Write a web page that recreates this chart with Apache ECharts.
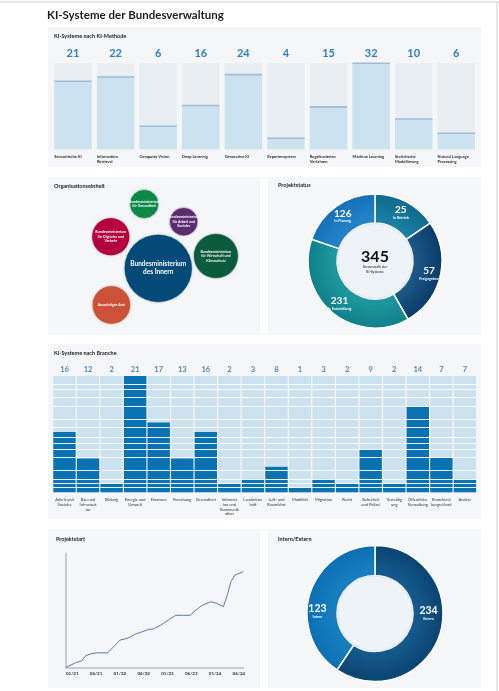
<!DOCTYPE html>
<html lang="de">
<head>
<meta charset="utf-8">
<title>KI-Systeme der Bundesverwaltung</title>
<script src="https://cdn.jsdelivr.net/npm/echarts@6/dist/echarts.min.js"></script>
<style>
html,body{margin:0;padding:0;background:#fff;}
#main{width:499px;height:691px;}
</style>
</head>
<body>
<div id="main"></div>
<script>
// KI-Methode
var methodNames = ['Semantische KI', 'Information\nRetrieval', 'Computer Vision', 'Deep Learning', 'Generative KI',
  'Expertensystem', 'Regelbasiertes\nVerfahren', 'Machine Learning', 'Statistische\nModellierung', 'Natural Language\nProcessing'];
var methodCounts = [21, 22, 6, 16, 24, 4, 15, 32, 10, 6];
var methodLevel = [25.3, 26.9, 8.6, 16.3, 27.8, 4.1, 15.8, 32, 11.3, 6.0]; // Balkenhöhe wie im Bild

// Organisationseinheit
var orgNames = ['Bundesministerium\ndes Innern', 'Bundesministerium\nfür Wirtschaft und\nKlimaschutz', 'Bundesministerium\nfür Digitales und\nVerkehr',
  'Auswärtiges Amt', 'Bundesministerium\nfür Arbeit und\nSoziales', 'Bundesministerium\nfür Gesundheit'];
var orgX = [52.0, 79.2, 29.6, 29.9, 64.0, 45.4];
var orgY = [57.8, 50.0, 37.8, 81.0, 28.3, 17.1];
var orgSize = [138, 60, 43, 44, 24, 25];
var orgColors = ['#034a78', '#0b5b3e', '#b4003c', '#cb5239', '#5d2b6f', '#0c8947'];

// Projektstatus
var statusNames = ['In Betrieb', 'Freigegeben', 'In Entwicklung', 'In Planung'];
var statusCounts = [25, 57, 231, 126];
var statusShare = [55.5, 95, 138.5, 71]; // Segmentgröße wie im Bild
var statusTotal = 345;

// Branche
var branchNames = ['Arbeit und\nSoziales', 'Bau und\nInfrastruk\ntur', 'Bildung', 'Energie und\nUmwelt', 'Finanzen', 'Forschung', 'Gesundheit',
  'Informat\nion und\nKommunik\nation', 'Landwirtsc\nhaft', 'Luft- und\nRaumfahrt', 'Mobilität', 'Migration', 'Recht', 'Sicherheit\nund Polizei',
  'Verteidig\nung', 'Öffentliche\nVerwaltung', 'Branchenü\nbergreifend', 'Andere'];
var branchCounts = [16, 12, 2, 21, 17, 13, 16, 2, 3, 8, 1, 3, 2, 9, 2, 14, 7, 7];
var branchLevel = [10.9, 6.1, 1.6, 21, 12.6, 6.1, 10.9, 1.6, 2.35, 4.6, 0.83, 2.35, 1.6, 7.76, 1.6, 15.6, 6.25, 2.35];
var gridLevels = [0.83, 1.6, 2.35, 4.0, 6.25, 7.76, 8.85, 10.0, 11.7, 13.2, 15.6, 17.15, 18.6, 19.5];

// Projektstart
var startTicks = ['01/21', '06/21', '01/22', '06/22', '01/23', '06/23', '01/24', '06/24'];
var startX = [0, 0.45, 0.66, 0.83, 1.08, 1.29, 1.75, 1.99, 2.27, 2.48, 2.65, 2.93, 3.21, 3.46, 3.67, 3.99, 4.30, 4.61, 4.93, 5.21, 5.42, 5.70, 6.09, 6.33, 6.61, 6.79, 6.93, 7.10, 7.45];
var startY = [0, 18, 23, 42, 49, 52, 52, 73, 98, 102, 107, 120, 128, 136, 138, 152, 170, 187, 187, 187, 203, 222, 236, 230, 218, 263, 308, 332, 344];

// Intern/Extern
var ieNames = ['Extern', 'Intern'];
var ieCounts = [234, 123];
var ieShare = [214, 146];

var FONT = 'Lato, "Noto Sans", sans-serif';

var mydiv = document.getElementById('main');
var chart = echarts.init(mydiv);

function radial(cx, cy, r, inner, outer) {
  return { type: 'radial', x: cx, y: cy, r: r, global: true,
    colorStops: [{ offset: 0.5, color: inner }, { offset: 1, color: outer }] };
}

function panel(x, y, w, h) {
  return { type: 'rect', z: -10, silent: true, shape: { x: x, y: y, width: w, height: h }, style: { fill: '#f4f6f7' } };
}

function panelTitle(text, x, y, size) {
  return { text: text, left: x, top: y, padding: 0,
    textStyle: { fontSize: size || 5.5, fontWeight: 'bold', color: '#1d1d1d', fontFamily: FONT } };
}

var statusColors = [
  radial(375, 261, 67, '#1b86a6', '#106a8e'),
  radial(375, 261, 67, '#1f5e90', '#0a3c68'),
  radial(375, 261, 67, '#1f9fa2', '#10808a'),
  radial(375, 261, 67, '#2789cc', '#1570b8')
];
var ieColors = [
  radial(375, 613.5, 68, '#175f94', '#0a4471'),
  radial(375, 613.5, 68, '#1a83c4', '#0b70b3')
];
var ieOffsets = [[0, -17], [-4, 14]];

var option = {
  animation: false,
  textStyle: { fontFamily: FONT },
  graphic: [
    { type: 'line', z: -10, silent: true, shape: { x1: 0, y1: 2, x2: 499, y2: 2 }, style: { stroke: '#cfd3d6', lineWidth: 1 } },
    { type: 'line', z: -10, silent: true, shape: { x1: 497, y1: 2, x2: 497, y2: 691 }, style: { stroke: '#cfd3d6', lineWidth: 1 } },
    panel(48, 27, 433, 140),
    panel(48, 177, 212, 158),
    panel(268, 177, 213, 158),
    panel(48, 344, 433, 175),
    panel(48, 529, 212, 159),
    panel(268, 529, 213, 159)
  ],
  title: [
    panelTitle('KI-Systeme der Bundesverwaltung', 47, 9, 11.5),
    panelTitle('KI-Systeme nach KI-Methode', 54, 33),
    panelTitle('Organisationseinheit', 54, 183),
    panelTitle('Projektstatus', 278, 182.5),
    panelTitle('KI-Systeme nach Branche', 54, 350.5),
    panelTitle('Projektstart', 56, 536.5),
    panelTitle('Intern/Extern', 278, 536.5)
  ],
  grid: [
    { left: 51.7, top: 63.3, width: 425.9, height: 86 },     // 0 KI-Methode
    { left: 33, top: 63.3, width: 425.9, height: 86 },       // 1 Beschriftung linksbündig
    { left: 52.7, top: 376, width: 424, height: 116.3 },     // 2 Branche
    { left: 48, top: 177, width: 212, height: 158 },         // 3 Organisationseinheit
    { left: 66, top: 553.3, width: 177.3, height: 114 }      // 4 Projektstart
  ],
  xAxis: [
    { gridIndex: 0, type: 'category', data: methodNames, axisLine: { show: false }, axisTick: { show: false }, axisLabel: { show: false } },
    { gridIndex: 1, type: 'category', data: methodNames, axisLine: { show: false }, axisTick: { show: false },
      axisLabel: { interval: 0, align: 'left', verticalAlign: 'top', margin: 5, fontSize: 4, lineHeight: 5, color: '#2a2a2a', fontWeight: 'bold' } },
    { gridIndex: 0, type: 'category', position: 'top', data: methodCounts.map(String), axisLine: { show: false }, axisTick: { show: false },
      axisLabel: { interval: 0, margin: 4, fontSize: 11, fontWeight: 'bold', color: '#2c7fc1' } },
    { gridIndex: 2, type: 'category', data: branchNames, axisLine: { show: false }, axisTick: { show: false },
      axisLabel: { interval: 0, verticalAlign: 'top', margin: 5, fontSize: 4, lineHeight: 4.8, color: '#333' } },
    { gridIndex: 2, type: 'category', position: 'top', data: branchCounts.map(String), axisLine: { show: false }, axisTick: { show: false },
      axisLabel: { interval: 0, margin: 2, fontSize: 7.5, fontWeight: 'bold', color: '#4689c4' } },
    { gridIndex: 3, type: 'value', min: 0, max: 100, show: false },
    { gridIndex: 4, type: 'value', min: 0, max: 7.45, interval: 1,
      axisLine: { show: true, lineStyle: { color: '#b5bec6', width: 1.5 } }, axisTick: { show: false }, splitLine: { show: false },
      axisLabel: { align: 'left', margin: 4, fontSize: 4.5, fontWeight: 'bold', color: '#333', showMaxLabel: false,
        formatter: function (v) { return startTicks[v] || ''; } } }
  ],
  yAxis: [
    { gridIndex: 0, type: 'value', min: 0, max: 32, show: false },
    { gridIndex: 1, type: 'value', min: 0, max: 32, show: false },
    { gridIndex: 2, type: 'value', min: 0, max: 21, show: false },
    { gridIndex: 3, type: 'value', min: 0, max: 100, inverse: true, show: false },
    { gridIndex: 4, type: 'value', min: 0, max: 410,
      axisLine: { show: true, lineStyle: { color: '#b5bec6', width: 1.5 } }, axisTick: { show: false },
      axisLabel: { show: false }, splitLine: { show: false } }
  ],
  series: [
    // KI-Methode
    {
      type: 'bar', xAxisIndex: 0, yAxisIndex: 0, data: methodLevel, barWidth: 37.4, silent: true,
      itemStyle: { color: '#cde2ef' },
      showBackground: true, backgroundStyle: { color: '#e8eef2' }
    },
    {
      type: 'scatter', xAxisIndex: 0, yAxisIndex: 0, data: methodLevel, symbol: 'rect', symbolSize: [37.4, 1.6], silent: true,
      itemStyle: { color: '#8db4d6' }
    },
    // Branche
    {
      type: 'bar', xAxisIndex: 3, yAxisIndex: 2, data: branchLevel, barCategoryGap: '5%', silent: true,
      itemStyle: { color: '#0a71b3' },
      showBackground: true, backgroundStyle: { color: '#cde2ef' },
      markLine: {
        silent: true, symbol: 'none', label: { show: false },
        lineStyle: { color: '#ffffff', width: 1, type: 'solid', opacity: 0.9 },
        data: gridLevels.map(function (v) { return { yAxis: v }; })
      }
    },
    // Organisationseinheit
    {
      type: 'scatter', xAxisIndex: 5, yAxisIndex: 3, silent: true,
      data: orgNames.map(function (n, i) {
        return {
          value: [orgX[i], orgY[i], orgSize[i]],
          name: n,
          itemStyle: { color: orgColors[i] },
          label: { fontSize: i === 0 ? 6.5 : 3.6, lineHeight: i === 0 ? 8 : 4.5 }
        };
      }),
      symbolSize: function (d) { return Math.sqrt(d[2]) * 5.8; },
      itemStyle: { opacity: 1, borderColor: 'rgba(255,255,255,0.7)', borderWidth: 0.8, shadowBlur: 2, shadowColor: 'rgba(0,0,0,0.15)' },
      label: { show: true, position: 'inside', color: '#fff', fontWeight: 'bold', formatter: '{b}' }
    },
    // Projektstart
    {
      type: 'line', xAxisIndex: 6, yAxisIndex: 4, silent: true, showSymbol: false,
      data: startX.map(function (x, i) { return [x, startY[i]]; }),
      lineStyle: { color: '#5b7ba8', width: 1 }
    },
    // Projektstatus
    {
      type: 'pie', center: [375, 261], radius: [38, 67], startAngle: 90, silent: true,
      data: statusNames.map(function (n, i) { return { name: n, value: statusShare[i], itemStyle: { color: statusColors[i] } }; }),
      itemStyle: { borderColor: '#ffffff', borderWidth: 1.5 },
      label: {
        show: true, position: 'inside',
        formatter: function (p) { return '{n|' + statusCounts[p.dataIndex] + '}\n{t|' + p.name + '}'; },
        rich: {
          n: { fontSize: 10, fontWeight: 'bold', color: '#fff', lineHeight: 11, fontFamily: FONT },
          t: { fontSize: 3.6, fontWeight: 'bold', color: '#fff', lineHeight: 5, fontFamily: FONT }
        }
      },
      labelLine: { show: false }
    },
    {
      type: 'pie', center: [375, 261], radius: [0, 37], silent: true,
      data: [{ name: 'Gesamt', value: statusTotal }],
      itemStyle: { color: '#eef3f7', shadowBlur: 4, shadowColor: 'rgba(0,0,0,0.18)' },
      label: {
        show: true, position: 'center',
        formatter: function (p) { return '{v|' + p.value + '}\n{t|Gesamtzahl der}\n{t|KI-Systeme}'; },
        rich: {
          v: { fontSize: 16, fontWeight: 'bold', color: '#111', lineHeight: 17, fontFamily: FONT },
          t: { fontSize: 3.6, color: '#222', lineHeight: 4.5, fontFamily: FONT }
        }
      },
      labelLine: { show: false }
    },
    // Intern/Extern
    {
      type: 'pie', center: [375, 613.5], radius: [38, 68], startAngle: 90, silent: true,
      data: ieNames.map(function (n, i) {
        return { name: n, value: ieShare[i], itemStyle: { color: ieColors[i] }, label: { offset: ieOffsets[i] } };
      }),
      itemStyle: { borderColor: '#ffffff', borderWidth: 1.5 },
      label: {
        show: true, position: 'inside',
        formatter: function (p) { return '{n|' + ieCounts[p.dataIndex] + '}\n{t|' + p.name + '}'; },
        rich: {
          n: { fontSize: 10.5, fontWeight: 'bold', color: '#fff', lineHeight: 11, fontFamily: FONT },
          t: { fontSize: 3.6, fontWeight: 'bold', color: '#fff', lineHeight: 5, fontFamily: FONT }
        }
      },
      labelLine: { show: false }
    },
    {
      type: 'pie', center: [375, 613.5], radius: [0, 37], silent: true,
      data: [{ name: 'innen', value: 1 }],
      itemStyle: { color: '#eef3f7', shadowBlur: 4, shadowColor: 'rgba(0,0,0,0.18)' },
      label: { show: false }, labelLine: { show: false }
    }
  ]
};

chart.setOption(option);
</script>
</body>
</html>
